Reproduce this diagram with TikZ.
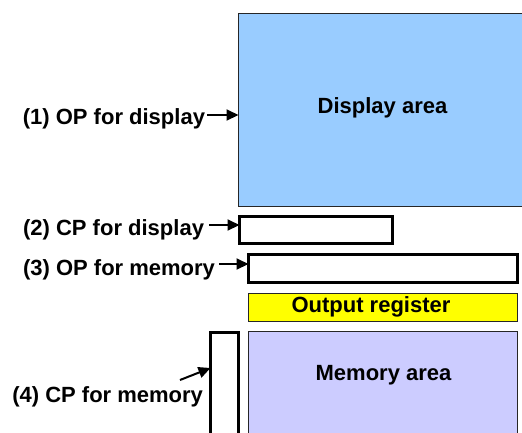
\documentclass[tikz,border=0pt]{standalone}
\usepackage{fontspec}
\setmainfont{Liberation Sans}
\usetikzlibrary{arrows.meta,calc}
\definecolor{dispblue}{HTML}{99CCFF}
\definecolor{memblue}{HTML}{CCCCFF}
\definecolor{regyellow}{HTML}{FFFF00}
\begin{document}
\begin{tikzpicture}[x=1pt,y=-1pt,
  every node/.style={inner sep=0pt,outer sep=0pt,font=\fontsize{22}{26}\selectfont\bfseries},
  area/.style={draw=black!85,line width=1.2pt,anchor=north west},
  reg/.style={draw=black,line width=3pt,anchor=north west,fill=white},
  lbl/.style={anchor=base east},
  ttl/.style={anchor=base},
  arr/.style={line width=2pt,-{Triangle[length=12pt,width=11pt]}}]
\useasboundingbox (0,0) rectangle (522,432);
\clip (0,0) rectangle (522,432);
% areas
\node[area,fill=dispblue,minimum width=285pt,minimum height=193pt] (disp) at (238.5,13.2) {};
\node[ttl] (disptext) at (382.5,113) {Display area};
\node[reg,minimum width=153pt,minimum height=27pt] (cp1) at (239.5,216.5) {};
\node[reg,minimum width=269pt,minimum height=28pt] (op2) at (248.5,254.5) {};
\node[area,fill=regyellow,minimum width=269pt,minimum height=28pt] (outreg) at (248.5,293.5) {};
\node[ttl] (outtext) at (371,312.5) {Output register};
\node[area,fill=memblue,minimum width=269pt,minimum height=120pt] (mem) at (248.5,331.5) {};
\node[ttl] (memtext) at (383.5,380) {Memory area};
\node[reg,minimum width=28pt,minimum height=120pt] (cpm) at (210.5,332.5) {};
% labels
\node[lbl] (lab1) at (205,124) {(1) OP for display};
\node[lbl] (lab2) at (204,235) {(2) CP for display};
\node[lbl] (lab3) at (215,275) {(3) OP for memory};
\node[lbl] (lab4) at (203,402) {(4) CP for memory};
% arrows
\coordinate (a1) at (207,115);
\coordinate (a2) at (209,225);
\coordinate (a3) at (219,264);
\coordinate (a4) at (180,380);
\coordinate (t4) at (0,368);
\draw[arr] (a1) -- (a1 -| disp.west);
\draw[arr] (a2) -- (a2 -| cp1.west);
\draw[arr] (a3) -- (a3 -| op2.west);
\draw[arr] (a4) -- (t4 -| cpm.west);
\end{tikzpicture}
\end{document}
